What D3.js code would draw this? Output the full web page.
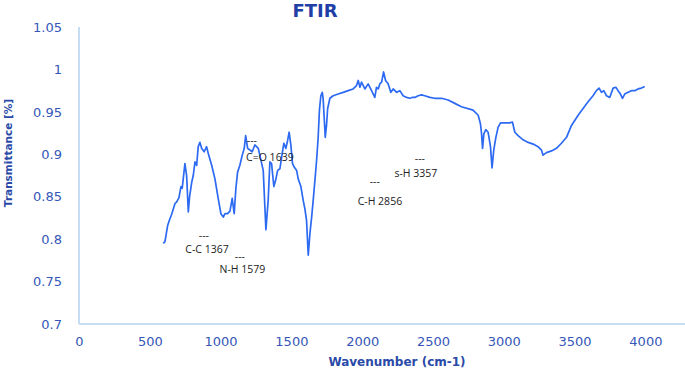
<!DOCTYPE html>
<html>
<head>
<meta charset="utf-8">
<script src="https://cdn.jsdelivr.net/npm/d3@7"></script>
<style>
  body { margin: 0; background: #fff; }
  svg { display: block; font-family: "DejaVu Sans", sans-serif; }
</style>
</head>
<body>
<div id="chart"></div>
<script>
// spectrum
const wavenumber = [595, 607, 626, 642, 654, 678, 690, 706, 720, 729, 748, 760, 772, 781, 796, 807, 819, 831, 842, 854,
  866, 884, 901, 913, 937, 960, 983, 1002, 1019, 1031, 1050, 1066, 1082, 1096, 1108, 1120, 1136, 1153, 1167, 1177,
  1191, 1207, 1223, 1242, 1266, 1301, 1320, 1336, 1348, 1360, 1376, 1388, 1403, 1419, 1435, 1447, 1461, 1473, 1484, 1496,
  1508, 1520, 1537, 1548, 1567, 1583, 1595, 1607, 1619, 1631, 1643, 1654, 1666, 1678, 1689, 1698, 1708, 1718, 1724, 1732,
  1739, 1748, 1756, 1772, 1795, 1830, 1866, 1901, 1936, 1960, 1972, 1984, 1995, 2019, 2042, 2066, 2089, 2101, 2113, 2125,
  2137, 2151, 2165, 2183, 2202, 2219, 2243, 2266, 2289, 2313, 2336, 2353, 2372, 2395, 2419, 2442, 2478, 2513, 2560, 2607,
  2654, 2701, 2783, 2819, 2835, 2843, 2850, 2859, 2873, 2889, 2906, 2917, 2929, 2944, 2960, 2977, 3007, 3042, 3061, 3078,
  3101, 3136, 3172, 3207, 3242, 3266, 3277, 3301, 3337, 3372, 3407, 3443, 3478, 3525, 3560, 3595, 3630, 3654, 3673, 3690,
  3706, 3725, 3748, 3772, 3791, 3807, 3824, 3838, 3854, 3878, 3901, 3925, 3948, 3972, 3995];
const transmittance = [0.795, 0.797, 0.816, 0.824, 0.829, 0.842, 0.844, 0.849, 0.862, 0.860, 0.889, 0.875, 0.832, 0.850, 0.867, 0.875, 0.891, 0.887, 0.909, 0.914,
  0.907, 0.903, 0.909, 0.901, 0.887, 0.871, 0.848, 0.830, 0.826, 0.830, 0.830, 0.833, 0.848, 0.830, 0.860, 0.879, 0.887, 0.899, 0.907, 0.922,
  0.907, 0.905, 0.903, 0.911, 0.907, 0.881, 0.811, 0.846, 0.891, 0.889, 0.862, 0.869, 0.881, 0.883, 0.901, 0.913, 0.907, 0.916, 0.926, 0.911,
  0.889, 0.885, 0.881, 0.871, 0.862, 0.846, 0.836, 0.822, 0.781, 0.807, 0.826, 0.846, 0.869, 0.893, 0.920, 0.952, 0.969, 0.973, 0.966, 0.942,
  0.920, 0.934, 0.954, 0.966, 0.969, 0.971, 0.973, 0.975, 0.977, 0.981, 0.987, 0.979, 0.985, 0.977, 0.983, 0.975, 0.967, 0.979, 0.977, 0.983,
  0.985, 0.997, 0.987, 0.983, 0.973, 0.977, 0.973, 0.975, 0.969, 0.967, 0.966, 0.967, 0.967, 0.969, 0.970, 0.969, 0.967, 0.966, 0.966, 0.964,
  0.960, 0.956, 0.952, 0.946, 0.936, 0.924, 0.907, 0.924, 0.929, 0.926, 0.909, 0.884, 0.905, 0.920, 0.932, 0.937, 0.937, 0.937, 0.938, 0.926,
  0.922, 0.917, 0.914, 0.912, 0.909, 0.905, 0.899, 0.902, 0.904, 0.907, 0.913, 0.920, 0.934, 0.946, 0.954, 0.962, 0.969, 0.975, 0.978, 0.973,
  0.975, 0.969, 0.967, 0.978, 0.979, 0.975, 0.971, 0.966, 0.971, 0.973, 0.975, 0.975, 0.977, 0.978, 0.980];

const xTicks = [0, 500, 1000, 1500, 2000, 2500, 3000, 3500, 4000];
const yTicks = [0.7, 0.75, 0.8, 0.85, 0.9, 0.95, 1, 1.05];

// peak labels: text anchor and the little dash above it, in data units
const peakLabels = ['C-C 1367', 'N-H 1579', 'C=O 1639', 'C-H 2856', 's-H 3357'];
const peakTextX = [904, 1154, 1348, 2125, 2379];
const peakTextY = [0.788, 0.764, 0.896, 0.844, 0.878];
const peakDashX = [882, 1136, 1221, 2089, 2407];
const peakDashY = [0.804, 0.780, 0.916, 0.868, 0.895];

const width = 685;
const height = 370;
const margin = { top: 27, bottom: 46, left: 79 };

const svg = d3.select('#chart').append('svg')
  .attr('width', width)
  .attr('height', height);

const xScale = d3.scaleLinear().domain([0, 4500]).range([margin.left, margin.left + 9 * 70.8]);
const yScale = d3.scaleLinear().domain([0.7, 1.05]).range([height - margin.bottom, margin.top]);

const tickColor = '#3557b7';
const axisColor = '#c6ddf4';

// x axis
const xAxisG = svg.append('g')
  .attr('transform', `translate(0,${yScale(0.7)})`)
  .call(d3.axisBottom(xScale).tickValues(xTicks).tickSize(0).tickPadding(13).tickFormat(d3.format('d')));
xAxisG.select('.domain').remove();
xAxisG.selectAll('text').attr('fill', tickColor).attr('font-size', 13).attr('font-family', '"DejaVu Sans", sans-serif');
svg.append('line')
  .attr('x1', margin.left).attr('x2', width)
  .attr('y1', yScale(0.7)).attr('y2', yScale(0.7))
  .attr('stroke', axisColor).attr('stroke-width', 2);

// y axis
const yAxisG = svg.append('g')
  .attr('transform', `translate(${margin.left},0)`)
  .call(d3.axisLeft(yScale).tickValues(yTicks).tickSize(0).tickPadding(17).tickFormat(d => d3.format('~g')(d)));
yAxisG.select('.domain').remove();
yAxisG.selectAll('text').attr('fill', tickColor).attr('font-size', 13).attr('font-family', '"DejaVu Sans", sans-serif');
svg.append('line')
  .attr('x1', margin.left).attr('x2', margin.left)
  .attr('y1', yScale(1.05)).attr('y2', yScale(0.7))
  .attr('stroke', axisColor).attr('stroke-width', 2);

// titles
svg.append('text')
  .attr('x', 315).attr('y', 17)
  .attr('text-anchor', 'middle')
  .attr('font-size', 18).attr('font-weight', 'bold')
  .attr('fill', '#1f3fa6')
  .text('FTIR');

svg.append('text')
  .attr('x', 397).attr('y', 366)
  .attr('text-anchor', 'middle')
  .attr('font-size', 12).attr('font-weight', 'bold')
  .attr('fill', '#2a4aa8')
  .text('Wavenumber (cm-1)');

svg.append('text')
  .attr('transform', 'translate(12,153) rotate(-90)')
  .attr('text-anchor', 'middle')
  .attr('font-size', 10.5).attr('font-weight', 'bold')
  .attr('fill', '#2a4aa8')
  .text('Transmittance [%]');

// spectrum
const points = wavenumber.map((w, i) => [w, transmittance[i]]);
const line = d3.line()
  .x(d => xScale(d[0]))
  .y(d => yScale(d[1]));
svg.append('path')
  .datum(points)
  .attr('d', line)
  .attr('fill', 'none')
  .attr('stroke', '#2d6af2')
  .attr('stroke-width', 1.7)
  .attr('stroke-linejoin', 'round');

// peak annotations
const annoG = svg.append('g')
  .attr('font-family', '"Open Sans", sans-serif')
  .attr('font-size', 10.5)
  .attr('fill', '#222');
peakLabels.forEach((label, i) => {
  annoG.append('text')
    .attr('x', xScale(peakTextX[i]))
    .attr('y', yScale(peakTextY[i]))
    .attr('dy', '0.35em')
    .attr('text-anchor', 'middle')
    .text(label);
  annoG.append('text')
    .attr('x', xScale(peakDashX[i]))
    .attr('y', yScale(peakDashY[i]))
    .attr('dy', '0.35em')
    .attr('text-anchor', 'middle')
    .text('---');
});
</script>
</body>
</html>
